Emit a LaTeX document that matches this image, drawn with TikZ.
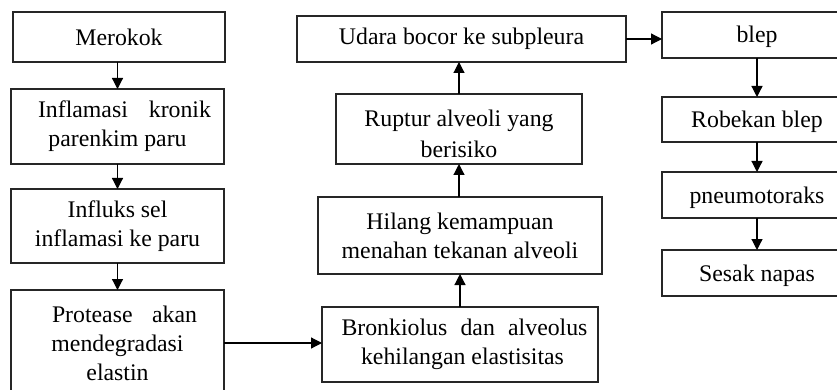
\documentclass[tikz,border=0pt]{standalone}
\usepackage{fontspec}
\setmainfont{Liberation Serif}
\usetikzlibrary{arrows.meta}
\begin{document}
\begin{tikzpicture}[x=1pt,y=-1pt,
  box/.style={draw=black!85,line width=1.1pt,inner sep=0pt,outer sep=0pt,align=center,font=\fontsize{23.8}{29}\selectfont},
  rbox/.style={box,minimum width=190pt,text height=16pt,text depth=0pt},
  arr/.style={draw=black,line width=1.2pt,-{Triangle[length=11pt,width=11pt]}}]
\useasboundingbox (0,0) rectangle (837,390);
\clip (0,0) rectangle (837,390);
% left column
\node[box,minimum width=212pt,minimum height=50pt] (m) at (119,37) {Merokok};
\node[box,minimum width=213pt,minimum height=75pt] (inf) at (117.5,126.5) {\hspace*{14pt}\makebox[173pt][s]{Inflamasi kronik}\\parenkim paru};
\node[box,minimum width=213pt,minimum height=74pt] (infl) at (117.5,226) {Influks sel\\inflamasi ke paru};
\node[box,minimum width=213pt,minimum height=106pt] (prot) at (117.5,343) {\hspace*{14pt}\makebox[145pt][s]{Protease akan}\\mendegradasi\\elastin};
% middle column
\node[box,minimum width=329pt,minimum height=46pt] (ud) at (461.5,39) {Udara bocor ke subpleura};
\node[box,minimum width=246pt,minimum height=70pt] (rup) at (459,129) {\rule{0pt}{26pt}Ruptur alveoli yang\\[2pt]berisiko};
\node[box,minimum width=284pt,minimum height=77pt] (hil) at (460,235.5) {Hilang kemampuan\\menahan tekanan alveoli};
\node[box,minimum width=276pt,minimum height=75pt] (bron) at (460,344.5) {\hspace*{9pt}\makebox[246pt][s]{Bronkiolus dan alveolus}\\\hspace*{5pt}kehilangan elastisitas};
% right column
\node[rbox,minimum height=46pt,text depth=-4pt] (blep) at (757,35) {blep};
\node[rbox,minimum height=45pt] (rob) at (757,119.5) {Robekan blep};
\node[rbox,minimum height=46pt] (pneu) at (757,195) {pneumotoraks};
\node[rbox,minimum height=46pt] (ses) at (757,273) {Sesak napas};
% connectors
\draw[arr] (inf.north |- m.south) -- (inf.north);
\draw[arr] (inf.south) -- (infl.north);
\draw[arr] (infl.south) -- (prot.north);
\draw[arr] (prot.east) -- (prot.east -| bron.west);
\draw[arr] (bron.north) -- (hil.south);
\draw[arr] (rup.south |- hil.north) -- (rup.south);
\draw[arr] (rup.north) -- (rup.north |- ud.south);
\draw[arr] (ud.east) -- (ud.east -| blep.west);
\draw[arr] (blep.south) -- (rob.north);
\draw[arr] (rob.south) -- (pneu.north);
\draw[arr] (pneu.south) -- (ses.north);
\end{tikzpicture}
\end{document}
